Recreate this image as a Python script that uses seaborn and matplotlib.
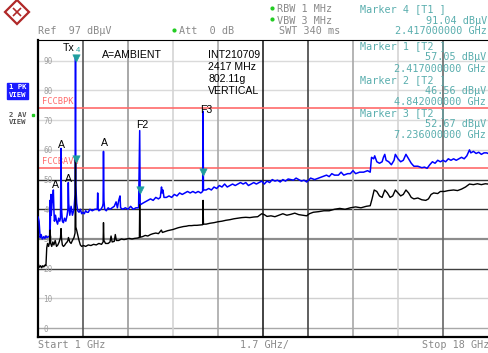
import numpy as np
import pandas as pd
import matplotlib
matplotlib.use("Agg")
import matplotlib.pyplot as plt
import seaborn as sns
from matplotlib.lines import Line2D

# ---------------- data ----------------
pk_freq = [1.00, 1.04, 1.08, 1.12, 1.16, 1.22, 1.26, 1.30, 1.34, 1.44, 1.45, 1.46, 1.48, 1.49,
           1.50, 1.53, 1.56, 1.58, 1.60, 1.62, 1.66, 1.70, 1.74, 1.78, 1.82, 1.85, 1.869, 1.89,
           1.92, 1.96, 2.00, 2.05, 2.10, 2.13, 2.145, 2.16, 2.20, 2.25, 2.30, 2.36, 2.40, 2.417,
           2.43, 2.46, 2.50, 2.55, 2.60, 2.65, 2.70, 2.75, 2.80, 2.85, 2.90, 2.96, 3.05, 3.15,
           3.24, 3.255, 3.27, 3.30, 3.38, 3.44, 3.46, 3.474, 3.49, 3.52, 3.58, 3.65, 3.72, 3.80,
           3.88, 3.95, 4.00, 4.05, 4.098, 4.12, 4.20, 4.30, 4.40, 4.50, 4.60, 4.70, 4.80, 4.842,
           4.86, 4.95, 5.05, 5.15, 5.25, 5.35, 5.45, 5.55, 5.62, 5.666, 5.69, 5.72, 5.76, 5.85,
           5.95, 6.05, 6.15, 6.25, 6.35, 6.45, 6.55, 6.65, 6.75, 6.85, 6.95, 7.05, 7.15, 7.22,
           7.236, 7.25, 7.35, 7.45, 7.55, 7.65, 7.75, 7.85, 7.95, 8.05, 8.15, 8.25, 8.35, 8.45,
           8.55, 8.65, 8.75, 8.85, 8.95, 9.05, 9.15, 9.25, 9.35, 9.45, 9.55, 9.65, 9.75, 9.85,
           9.95, 10.05, 10.15, 10.25, 10.35, 10.45, 10.55, 10.65, 10.75, 10.85, 10.95, 11.05,
           11.15, 11.30, 11.45, 11.60, 11.75, 11.90, 12.00, 12.10, 12.20, 12.35, 12.45, 12.55,
           12.70, 12.80, 12.90, 13.00, 13.15, 13.30, 13.45, 13.55, 13.60, 13.68, 13.72, 13.80,
           13.90, 14.00, 14.05, 14.10, 14.15, 14.25, 14.35, 14.45, 14.50, 14.60, 14.70, 14.80,
           14.90, 15.00, 15.10, 15.20, 15.35, 15.50, 15.60, 15.70, 15.80, 15.90, 16.00, 16.10,
           16.20, 16.30, 16.40, 16.50, 16.60, 16.70, 16.80, 16.90, 17.00, 17.10, 17.20, 17.30,
           17.35, 17.45, 17.55, 17.65, 17.75, 17.85, 17.95, 18.00]
pk_level = [37.5, 36.0, 30.5, 31.5, 30.0, 30.8, 30.2, 31.0, 30.5, 31.0, 43.0, 33.0, 40.0, 45.0,
            38.0, 42.0, 44.0, 46.5, 40.0, 36.0, 38.0, 36.0, 35.0, 37.0, 36.0, 37.0, 60.5, 40.0,
            36.0, 35.5, 37.0, 36.0, 38.0, 40.0, 49.0, 42.0, 38.0, 41.0, 38.0, 40.0, 45.0, 91.5,
            48.0, 42.0, 39.5, 39.0, 40.0, 38.5, 39.0, 38.5, 39.5, 39.0, 39.0, 40.0, 39.5, 40.0,
            40.0, 45.5, 40.0, 39.5, 40.0, 41.0, 42.0, 59.5, 43.0, 40.0, 39.5, 40.5, 40.0, 40.5,
            41.0, 42.5, 40.5, 43.0, 44.5, 40.5, 40.0, 40.5, 40.0, 41.0, 40.0, 40.5, 40.5, 66.5,
            41.5, 42.0, 42.5, 43.0, 43.5, 43.0, 44.0, 43.5, 44.0, 47.5, 45.5, 46.5, 44.0, 44.0,
            44.5, 44.0, 45.0, 44.5, 45.5, 45.0, 45.5, 46.0, 45.5, 46.0, 45.5, 46.0, 45.5, 46.0,
            73.0, 46.5, 46.5, 47.0, 46.5, 47.5, 47.0, 48.0, 47.5, 48.5, 47.5, 48.0, 48.5, 48.0,
            48.5, 49.0, 48.5, 49.0, 48.0, 48.5, 49.0, 48.5, 49.0, 49.5, 48.5, 49.5, 49.0, 50.0,
            49.5, 49.8, 49.2, 50.0, 49.5, 50.2, 50.0, 49.8, 50.5, 50.0, 49.5, 49.8,
            49.2, 50.5, 50.0, 50.5, 51.0, 51.5, 51.0, 52.0, 51.5, 51.5, 52.5, 51.5,
            52.0, 52.0, 53.0, 52.0, 52.5, 52.5, 53.0, 52.5, 57.5, 57.0, 58.0, 56.0,
            55.5, 56.0, 57.5, 58.5, 56.5, 56.0, 55.0, 56.5, 58.5, 57.0, 56.0, 56.5,
            58.5, 57.0, 55.5, 54.5, 54.5, 54.0, 54.2, 53.8, 55.0, 56.0, 55.5, 56.5,
            56.0, 56.5, 56.0, 57.0, 56.5, 57.0, 56.5, 57.0, 57.5, 57.0, 58.0, 60.0,
            59.0, 59.5, 58.8, 59.2, 58.5, 59.0, 59.0, 58.8]

av_freq = [1.00, 1.03, 1.06, 1.10, 1.14, 1.18, 1.22, 1.26, 1.30, 1.33, 1.36, 1.40, 1.44, 1.46,
           1.48, 1.52, 1.56, 1.60, 1.65, 1.70, 1.75, 1.80, 1.85, 1.87, 1.89, 1.92, 1.96, 2.00,
           2.05, 2.10, 2.13, 2.15, 2.20, 2.25, 2.30, 2.36, 2.40, 2.417, 2.43, 2.46, 2.50, 2.55,
           2.60, 2.65, 2.72, 2.80, 2.90, 3.00, 3.10, 3.20, 3.30, 3.40, 3.46, 3.474, 3.49, 3.55,
           3.65, 3.72, 3.76, 3.80, 3.88, 3.92, 3.96, 4.05, 4.15, 4.25, 4.35, 4.45, 4.55, 4.65,
           4.75, 4.83, 4.842, 4.86, 4.95, 5.05, 5.15, 5.25, 5.35, 5.45, 5.55, 5.66, 5.70, 5.80,
           5.90, 6.00, 6.10, 6.20, 6.30, 6.40, 6.50, 6.60, 6.70, 6.80, 6.90, 7.00, 7.10, 7.22,
           7.236, 7.25, 7.35, 7.50, 7.65, 7.80, 7.95, 8.10, 8.25, 8.40, 8.55, 8.70, 8.85, 9.00,
           9.15, 9.30, 9.45, 9.55, 9.65, 9.80, 9.95, 10.10, 10.25, 10.40, 10.55, 10.70, 10.85,
           11.00, 11.15, 11.25, 11.40, 11.60, 11.80, 12.00, 12.20, 12.40, 12.60, 12.80, 13.00,
           13.20, 13.40, 13.55, 13.62, 13.70, 13.80, 13.90, 14.00, 14.10, 14.20, 14.30, 14.40,
           14.50, 14.60, 14.70, 14.80, 14.90, 15.00, 15.10, 15.20, 15.35, 15.50, 15.65, 15.75,
           15.85, 15.95, 16.10, 16.20, 16.35, 16.50, 16.70, 16.85, 17.00, 17.15, 17.30, 17.45,
           17.60, 17.75, 17.90, 18.00]
av_level = [22.0, 21.0, 20.5, 21.0, 20.3, 21.0, 20.6, 21.2, 21.0, 27.0, 28.5, 27.5, 29.0, 33.0,
            28.5, 27.5, 29.0, 28.0, 29.5, 27.5, 28.0, 29.0, 30.5, 33.5, 30.0, 28.0, 27.5, 27.8,
            28.5, 29.0, 29.5, 30.5, 29.0, 28.5, 29.5, 30.5, 32.0, 57.0, 34.0, 33.0, 31.5, 29.5,
            28.0, 27.5, 27.8, 27.5, 28.0, 27.8, 28.2, 28.0, 28.5, 28.2, 29.0, 35.5, 29.5, 28.5,
            28.5, 29.0, 31.0, 29.0, 29.2, 31.5, 29.5, 29.5, 30.0, 29.8, 30.0, 30.2, 30.0, 30.2,
            30.3, 30.5, 41.5, 30.6, 30.8, 31.2, 31.0, 31.5, 31.8, 32.0, 31.8, 33.0, 32.2, 32.5,
            32.8, 33.0, 33.2, 33.5, 33.8, 34.0, 34.2, 34.3, 34.5, 34.5, 34.6, 34.6, 34.7, 34.8,
            43.0, 35.0, 35.0, 35.3, 35.5, 35.8, 36.0, 36.3, 36.5, 36.8, 37.0, 37.2, 37.3, 37.2,
            37.4, 37.5, 38.5, 38.2, 37.6, 37.8, 37.5, 38.0, 38.5, 38.0, 38.3, 38.7, 38.2,
            38.0, 37.8, 38.5, 39.0, 39.2, 39.5, 39.5, 40.0, 40.3, 40.0, 40.5, 40.8,
            40.5, 41.0, 41.2, 43.5, 46.5, 46.0, 44.5, 44.0, 46.5, 45.5, 44.0, 44.5,
            46.5, 45.5, 44.5, 45.0, 46.5, 45.5, 44.0, 43.5, 43.8, 43.2, 43.0, 43.5,
            45.0, 45.5, 45.3, 46.0, 46.0, 46.3, 46.5, 46.3, 46.8, 47.5, 48.5, 48.3,
            48.6, 48.3, 48.6, 48.5]

marker_freq = [2.417, 2.417, 4.842, 7.236]
marker_level = [91.04, 57.05, 46.56, 52.67]
limit_levels = [74, 54]
limit_labels = ["FCCBPK", "FCCBAVG"]
y_ticks = [0, 10, 20, 30, 40, 50, 60, 70, 80, 90]
y_tick_labels = ["0", "10", "20", "30", "40", "50", "60", "70", "80", "90"]
div_freqs = [2.7, 4.4, 6.1, 7.8, 9.5, 11.2, 12.9, 14.6, 16.3]

# ---------------- figure ----------------
sns.set_style("white")
plt.rcParams['font.family'] = ['Liberation Sans', 'DejaVu Sans']

W, H = 489, 353
fig = plt.figure(figsize=(W / 100, H / 100), dpi=100)
ax = fig.add_axes([38 / W, 16 / H, 450 / W, 297 / H])
ax.set_xlim(1, 18)
ax.set_ylim(-3, 97)

def fx(px):
    return px / W

def fy(py):
    return 1 - py / H

# grid
hcolors = {0: '#a8a8a8', 10: '#d0d0d0', 20: '#404040', 30: '#8c8c8c', 40: '#303030',
           50: '#303030', 60: '#d0d0d0', 70: '#dadada', 80: '#dadada', 90: '#dadada'}
hwidth = {30: 1.6}
for lv in y_ticks:
    ax.axhline(lv, color=hcolors[lv], lw=hwidth.get(lv, 1.0), zorder=0.5)
vcolors = ['#555555', '#9a9a9a', '#d4d4d4', '#a8a8a8', '#222222', '#444444', '#a8a8a8',
           '#d4d4d4', '#666666']
for f, c in zip(div_freqs, vcolors):
    ax.axvline(f, color=c, lw=1.2, zorder=0.5)

# limit lines
for lv, lab in zip(limit_levels, limit_labels):
    ax.axhline(lv, color='#ff6b6b', lw=1.2, zorder=1)
    ax.text(1.15, lv + 2.2, lab, color='#ff6b6b', fontsize=6.2, family='DejaVu Sans Mono',
            va='center', ha='left', zorder=1)

pk = pd.DataFrame({'freq': pk_freq, 'level': pk_level})
av = pd.DataFrame({'freq': av_freq, 'level': av_level})
sns.lineplot(data=pk, x='freq', y='level', color='#0000ff', lw=1.1, estimator=None, ax=ax,
             zorder=3)
sns.lineplot(data=av, x='freq', y='level', color='black', lw=1.0, estimator=None, ax=ax,
             zorder=4)

mk = pd.DataFrame({'freq': marker_freq, 'level': marker_level})
sns.scatterplot(data=mk, x='freq', y='level', marker='v', s=28, color='#1f9e9e',
                edgecolor='#1f9e9e', ax=ax, zorder=6)

ax.set_xlabel('')
ax.set_ylabel('')
ax.set_xticks([])
ax.set_yticks(y_ticks)
ax.set_yticklabels(y_tick_labels)
ax.tick_params(axis='y', direction='in', length=3, width=0.8, color='#909090',
               pad=-3.8, labelsize=5.5, labelcolor='#a0a0a0')
for t in ax.get_yticklabels():
    t.set_horizontalalignment('left')
    t.set_family('DejaVu Sans Mono')

for s in ['left', 'bottom']:
    ax.spines[s].set_color('black')
    ax.spines[s].set_linewidth(1.6)
ax.spines['top'].set_color('black')
ax.spines['top'].set_linewidth(0.8)
ax.spines['right'].set_visible(False)

# annotations in plot
ann = dict(color='black', fontsize=7.6, family='Liberation Sans', zorder=7)
ax.text(2.15, 94.3, 'Tx', ha='center', va='center', **ann)
ax.text(2.43, 93.4, '4', ha='left', va='center', color='#1f9e9e', fontsize=5.5, zorder=7)
ax.text(4.55, 92.0, 'A=AMBIENT', ha='center', va='center', **ann)
ax.text(7.43, 92.0, 'INT210709', ha='left', va='center', **ann)
ax.text(7.43, 88.0, '2417 MHz', ha='left', va='center', **ann)
ax.text(7.43, 83.9, '802.11g', ha='left', va='center', **ann)
ax.text(7.43, 79.7, 'VERTICAL', ha='left', va='center', **ann)
ax.text(4.93, 68.3, 'F2', ha='center', va='center', **ann)
ax.text(7.34, 73.3, 'F3', ha='center', va='center', **ann)
ax.text(1.869, 61.6, 'A', ha='center', va='center', **ann)
ax.text(1.66, 48.3, 'A', ha='center', va='center', **ann)
ax.text(2.16, 50.2, 'A', ha='center', va='center', **ann)
ax.text(3.50, 62.3, 'A', ha='center', va='center', **ann)

# header texts
mono = dict(family='DejaVu Sans Mono', fontsize=7.3)
grey = '#8a8a8a'
teal = '#5aaeae'
fig.text(fx(38), fy(31.5), 'Ref  97 dBµV', color=grey, va='center', ha='left', **mono)
fig.text(fx(179), fy(31.5), 'Att  0 dB', color=grey, va='center', ha='left', **mono)
fig.text(fx(277), fy(9), 'RBW 1 MHz', color=grey, va='center', ha='left', **mono)
fig.text(fx(277), fy(20.5), 'VBW 3 MHz', color=grey, va='center', ha='left', **mono)
fig.text(fx(279), fy(31.5), 'SWT 340 ms', color=grey, va='center', ha='left', **mono)
for (xx, yy) in [(174, 31.5), (272, 9), (272, 20.5)]:
    fig.add_artist(Line2D([fx(xx)], [fy(yy) + 0.004], marker='o', markersize=2,
                          color='#22cc22', transform=fig.transFigure))
fig.text(fx(360), fy(9), 'Marker 4 [T1 ]', color=teal, va='center', ha='left', **mono)
fig.text(fx(487), fy(20.5), '91.04 dBµV', color=teal, va='center', ha='right', **mono)
fig.text(fx(487), fy(31.5), '2.417000000 GHz', color=teal, va='center', ha='right', **mono)

rows = [('Marker 1 [T2 ]', 'l', 46.5), ('57.05 dBµV', 'r', 57.3), ('2.417000000 GHz', 'r', 68.8),
        ('Marker 2 [T2 ]', 'l', 80.3), ('46.56 dBµV', 'r', 91.3), ('4.842000000 GHz', 'r', 102.3),
        ('Marker 3 [T2 ]', 'l', 113.3), ('52.67 dBµV', 'r', 124.0), ('7.236000000 GHz', 'r', 134.5)]
for txt, al, yy in rows:
    if al == 'l':
        fig.text(fx(360), fy(yy), txt, color=teal, va='center', ha='left', zorder=8, **mono)
    else:
        fig.text(fx(486), fy(yy), txt, color=teal, va='center', ha='right', zorder=8, **mono)

# left labels
fig.patches.append(matplotlib.patches.Rectangle((fx(7), fy(99)), 21 / W, 16 / H,
                                                transform=fig.transFigure, color='#1a1aff'))
small = dict(family='DejaVu Sans Mono', fontsize=5.2, fontweight='bold')
fig.text(fx(17.5), fy(87), '1 PK', color='white', ha='center', va='center', **small)
fig.text(fx(17.5), fy(95), 'VIEW', color='white', ha='center', va='center', **small)
fig.text(fx(17.5), fy(115.5), '2 AV', color='#555555', ha='center', va='center', **small)
fig.text(fx(17.5), fy(122.5), 'VIEW', color='#555555', ha='center', va='center', **small)
fig.add_artist(Line2D([fx(33)], [fy(115)], marker='s', markersize=2, color='#22cc22',
                      transform=fig.transFigure))

# logo
fig.add_artist(Line2D([fx(17)], [fy(12)], marker='D', markersize=12, markerfacecolor='white',
                      markeredgecolor='#b02828', markeredgewidth=1.6, transform=fig.transFigure))
fig.add_artist(Line2D([fx(17)], [fy(12)], marker='x', markersize=6, color='#b02828',
                      markeredgewidth=1.2, transform=fig.transFigure))

# bottom texts
fig.text(fx(38), fy(345), 'Start 1 GHz', color=grey, ha='left', va='center', **mono)
fig.text(fx(240), fy(345), '1.7 GHz/', color=grey, ha='left', va='center', **mono)
fig.text(fx(489), fy(345), 'Stop 18 GHz', color=grey, ha='right', va='center', **mono)

fig.savefig('out.png', dpi=100)
